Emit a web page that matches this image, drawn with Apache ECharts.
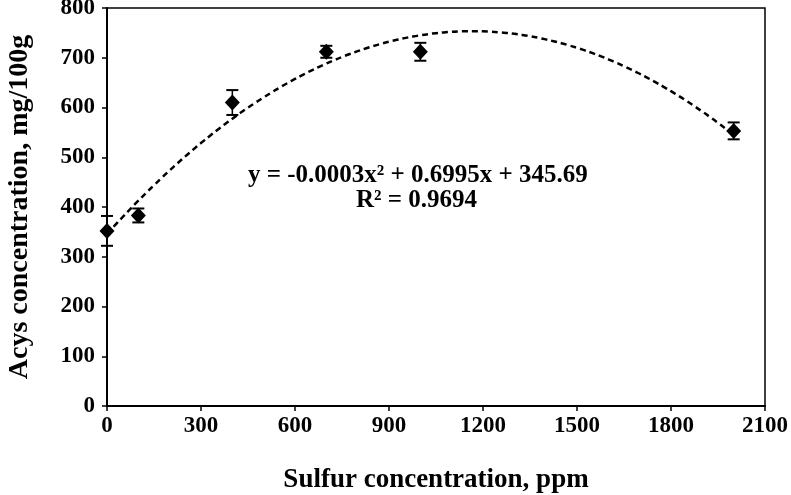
<!DOCTYPE html>
<html>
<head>
<meta charset="utf-8">
<script src="https://cdn.jsdelivr.net/npm/echarts@6/dist/echarts.min.js"></script>
<style>html,body{margin:0;padding:0;background:#fff;}#c{width:791px;height:495px;}</style>
</head>
<body>
<div id="c"></div>
<script>
// Data
const sulfur = [0, 100, 400, 700, 1000, 2000];
const acys = [352, 383, 610, 712, 712, 553];
const errs = [30, 14, 25, 12, 18, 17];
const xTicks = [0, 300, 600, 900, 1200, 1500, 1800, 2100];
const yTicks = [0, 100, 200, 300, 400, 500, 600, 700, 800];
// polynomial trendline coefficients shown on the chart (a2, a1, a0)
const trendCoef = [-0.0003, 0.6995, 345.69];
const trendRange = [0, 2000];
const eqText = 'y = -0.0003x² + 0.6995x + 345.69';
const r2Text = 'R² = 0.9694';

const trend = [];
for (let x = trendRange[0]; x <= trendRange[1]; x += 25) {
  trend.push([x, trendCoef[0]*x*x + trendCoef[1]*x + trendCoef[2]]);
}
const pts = sulfur.map((x, i) => [x, acys[i]]);
const errData = sulfur.map((x, i) => [x, acys[i] - errs[i], acys[i] + errs[i]]);

const font = 'Liberation Serif';
const chart = echarts.init(document.getElementById('c'));
chart.setOption({
  animation: false,
  backgroundColor: '#fff',
  grid: { left: 107, right: 26, top: 8, bottom: 89, containLabel: false, outerBoundsMode: 'none',
          show: true, borderColor: '#000', borderWidth: 1.5, backgroundColor: 'transparent' },
  xAxis: {
    type: 'value', min: xTicks[0], max: xTicks[xTicks.length-1], interval: 300,
    name: 'Sulfur concentration, ppm', nameLocation: 'middle', nameGap: 61,
    nameTextStyle: { fontFamily: font, fontWeight: 'bold', fontSize: 27, color: '#000' },
    axisLine: { lineStyle: { color: '#000', width: 2 } },
    axisTick: { show: true, length: 5, lineStyle: { color: '#000', width: 1.5 } },
    axisLabel: { fontFamily: font, fontWeight: 'bold', fontSize: 23, color: '#000', margin: 9, formatter: v => String(v) },
    splitLine: { show: false }
  },
  yAxis: {
    type: 'value', min: yTicks[0], max: yTicks[yTicks.length-1], interval: 100,
    name: 'Acys concentration, mg/100g', nameLocation: 'middle', nameGap: 73,
    nameTextStyle: { fontFamily: font, fontWeight: 'bold', fontSize: 28, color: '#000' },
    axisLine: { show: true, lineStyle: { color: '#000', width: 2 } },
    axisTick: { show: true, length: 5, lineStyle: { color: '#000', width: 1.5 } },
    axisLabel: { fontFamily: font, fontWeight: 'bold', fontSize: 23, color: '#000', margin: 12, formatter: v => String(v) },
    splitLine: { show: false }
  },
  series: [
    {
      type: 'line', data: trend, showSymbol: false, symbol: 'none', smooth: true,
      lineStyle: { color: '#000', width: 2.5, type: [6, 4] }, z: 2, silent: true
    },
    {
      type: 'custom', data: errData, z: 3,
      renderItem: function (params, api) {
        const x = api.value(0);
        const lo = api.coord([x, api.value(1)]);
        const hi = api.coord([x, api.value(2)]);
        const w = 6;
        return {
          type: 'group',
          children: [
            { type: 'line', shape: { x1: lo[0], y1: lo[1], x2: hi[0], y2: hi[1] }, style: { stroke: '#000', lineWidth: 1.5 } },
            { type: 'line', shape: { x1: lo[0]-w, y1: lo[1], x2: lo[0]+w, y2: lo[1] }, style: { stroke: '#000', lineWidth: 2 } },
            { type: 'line', shape: { x1: hi[0]-w, y1: hi[1], x2: hi[0]+w, y2: hi[1] }, style: { stroke: '#000', lineWidth: 2 } }
          ]
        };
      }
    },
    {
      type: 'scatter', data: pts, symbol: 'diamond', symbolSize: [15, 16],
      itemStyle: { color: '#000', opacity: 1 }, z: 4
    }
  ],
  graphic: [
    { type: 'text', left: 248, top: 163, style: { text: eqText, fontFamily: font, fontWeight: 'bold', fontSize: 25, fill: '#000' } },
    { type: 'text', left: 356, top: 188, style: { text: r2Text, fontFamily: font, fontWeight: 'bold', fontSize: 25, fill: '#000' } }
  ]
});
</script>
</body>
</html>
